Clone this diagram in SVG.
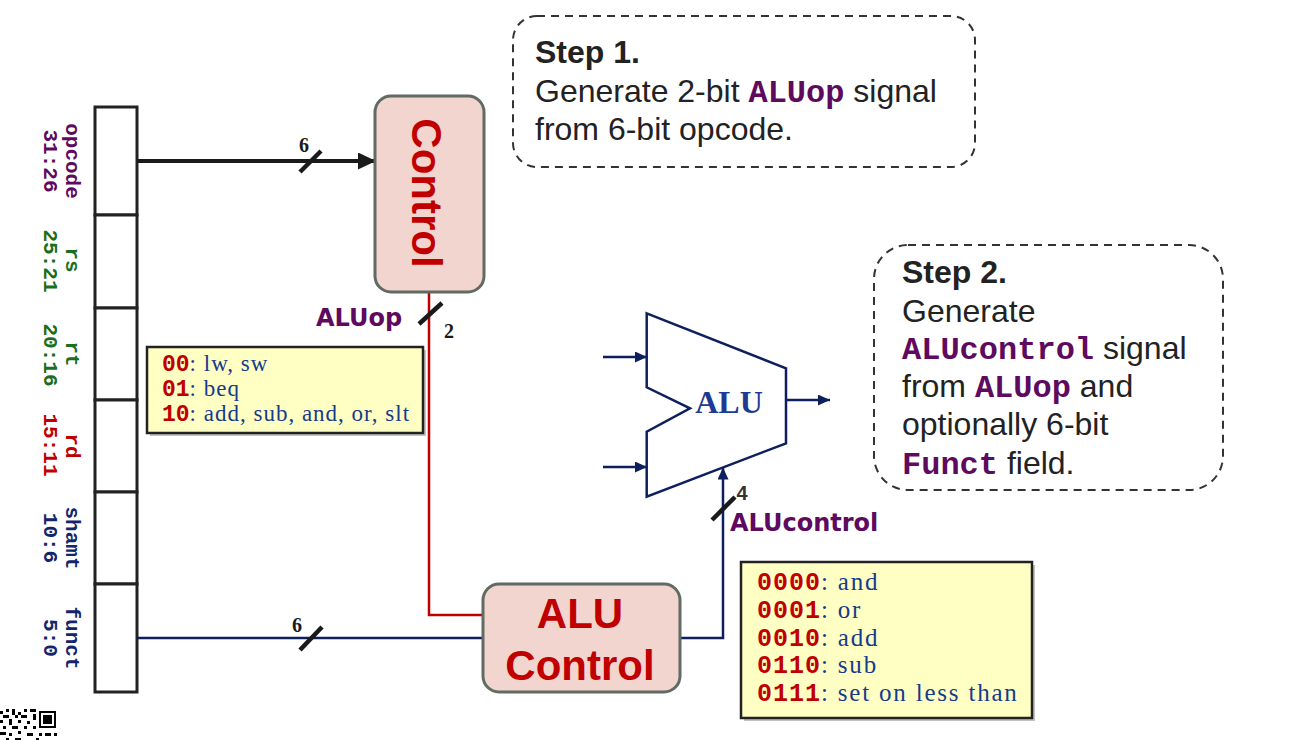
<svg xmlns="http://www.w3.org/2000/svg" width="1290" height="740" viewBox="0 0 1290 740">
<style>
.reg{fill:#fff;stroke:#222;stroke-width:3}
.lbl{font-family:"Liberation Mono",monospace;font-weight:bold;font-size:21px;text-anchor:middle}
.pur{fill:#5e0a5e}.grn{fill:#1b6e1b}.red{fill:#c00000}.nav{fill:#14266b}
.blk{fill:none;stroke:#1a1a1a;stroke-width:4}
.navl{fill:none;stroke:#0d1f5c;stroke-width:2.5}
.redl{fill:none;stroke:#c00000;stroke-width:2.5}
.slash{stroke:#1a1a1a;stroke-width:4.5;stroke-linecap:butt}
.num{font-family:"Liberation Serif",serif;font-weight:bold;font-size:20px;fill:#1a1a1a;text-anchor:middle}
.sig{font-family:"DejaVu Sans",sans-serif;font-weight:bold;font-size:24px;fill:#5e0a5e}
.ctl{fill:#f2d5cf;stroke:#5f6b63;stroke-width:3}
.ctlt{font-family:"Liberation Sans",sans-serif;font-weight:bold;font-size:42px;fill:#c00000;text-anchor:middle}
.ybox{fill:#ffffc4;stroke:#222;stroke-width:2.5}
.shadow{fill:#9a9a9a;opacity:0.6}
.code{font-family:"Liberation Mono",monospace;font-weight:bold;fill:#c00000}
.ser{font-family:"Liberation Serif",serif;fill:#163a8c}
.step{fill:none;stroke:#333;stroke-width:2;stroke-dasharray:8 6}
.st{font-family:"Liberation Sans",sans-serif;font-size:32px;fill:#222}
.stb{font-weight:bold}
.pc{font-family:"Liberation Mono",monospace;font-weight:bold;fill:#5e0a5e}
</style>
<defs>
<marker id="arrB" viewBox="0 0 18 17" markerWidth="18" markerHeight="17" refX="18" refY="8.5" orient="auto" markerUnits="userSpaceOnUse"><path d="M0,0 L18,8.5 L0,17 z" fill="#1a1a1a"/></marker>
<marker id="arrN" viewBox="0 0 12 11" markerWidth="12" markerHeight="11" refX="12" refY="5.5" orient="auto" markerUnits="userSpaceOnUse"><path d="M0,0 L12,5.5 L0,11 z" fill="#0d1f5c"/></marker>
</defs>
<rect width="1290" height="740" fill="#fff"/>

<g id="register">
<rect class="reg" x="95" y="107" width="42" height="108"/>
<rect class="reg" x="95" y="215" width="42" height="93"/>
<rect class="reg" x="95" y="308" width="42" height="92"/>
<rect class="reg" x="95" y="400" width="42" height="92"/>
<rect class="reg" x="95" y="492" width="42" height="92"/>
<rect class="reg" x="95" y="584" width="42" height="108"/>
<text class="lbl pur" transform="translate(66,161) rotate(90)">opcode</text>
<text class="lbl pur" transform="translate(44,161) rotate(90)">31:26</text>
<text class="lbl grn" transform="translate(66,260) rotate(90)">rs</text>
<text class="lbl grn" transform="translate(44,261) rotate(90)">25:21</text>
<text class="lbl grn" transform="translate(66,354) rotate(90)">rt</text>
<text class="lbl grn" transform="translate(44,355) rotate(90)">20:16</text>
<text class="lbl red" transform="translate(66,446) rotate(90)">rd</text>
<text class="lbl red" transform="translate(44,445) rotate(90)">15:11</text>
<text class="lbl nav" transform="translate(66,538) rotate(90)">shamt</text>
<text class="lbl nav" transform="translate(44,538) rotate(90)">10:6</text>
<text class="lbl nav" transform="translate(66,638) rotate(90)">funct</text>
<text class="lbl nav" transform="translate(44,638) rotate(90)">5:0</text>
</g>

<g id="connectors">
<line class="blk" x1="137" y1="161" x2="376" y2="161" marker-end="url(#arrB)"/>
<line class="slash" x1="300" y1="172" x2="321" y2="151"/>
<text class="num" x="304" y="152">6</text>
<polyline class="redl" points="429,292 429,615 484,615"/>
<line class="slash" x1="419" y1="324" x2="442" y2="303"/>
<text class="num" x="449" y="338">2</text>
<text class="sig" x="316" y="326">ALUop</text>
<line class="navl" x1="137" y1="638" x2="484" y2="638"/>
<line class="slash" x1="300" y1="650" x2="322" y2="627"/>
<text class="num" x="297" y="632">6</text>
<polyline class="navl" points="680,638 723,638 723,467.5" marker-end="url(#arrN)"/>
<line class="slash" x1="712" y1="520" x2="735" y2="497"/>
<text class="num" x="742" y="500" style="font-family:'Liberation Sans',sans-serif;fill:#333">4</text>
<text class="sig" x="730" y="531">ALUcontrol</text>
<line class="navl" x1="603" y1="357" x2="647" y2="357" marker-end="url(#arrN)"/>
<line class="navl" x1="603" y1="467" x2="647" y2="467" marker-end="url(#arrN)"/>
<line class="navl" x1="786" y1="400" x2="830" y2="400" marker-end="url(#arrN)"/>
</g>

<g id="control">
<rect class="ctl" x="375" y="96" width="109" height="196" rx="16"/>
<text class="ctlt" transform="translate(412,193) rotate(90)">Control</text>
</g>

<g id="alu">
<path d="M646.7,313.3 L786,368.3 L786,443.3 L646.7,496.7 L646.7,431.7 L690,408.3 L646.7,387.3 Z" fill="#fff" stroke="#0d1f5c" stroke-width="2.5" stroke-linejoin="miter"/>
<text x="729" y="413" style="font-family:'Liberation Serif',serif;font-weight:bold;font-size:32px;fill:#1f3a93;text-anchor:middle">ALU</text>
</g>

<g id="alucontrol">
<rect class="ctl" x="483" y="584" width="197" height="108" rx="16"/>
<text class="ctlt" x="580" y="628">ALU</text>
<text class="ctlt" x="580" y="680">Control</text>
</g>

<g id="aluop-table">
<rect class="shadow" x="150" y="350" width="276" height="86"/>
<rect class="ybox" x="147" y="347" width="276" height="86"/>
<text x="162" y="371"><tspan class="code" font-size="23">00</tspan><tspan class="ser" font-size="23" letter-spacing="1">: lw, sw</tspan></text>
<text x="162" y="396"><tspan class="code" font-size="23">01</tspan><tspan class="ser" font-size="23" letter-spacing="1">: beq</tspan></text>
<text x="162" y="421"><tspan class="code" font-size="23">10</tspan><tspan class="ser" font-size="23" letter-spacing="1">: add, sub, and, or, slt</tspan></text>
</g>

<g id="alucontrol-table">
<rect class="shadow" x="744" y="565" width="291" height="156"/>
<rect class="ybox" x="741" y="562" width="291" height="156"/>
<text x="757" y="590"><tspan class="code" font-size="25" letter-spacing="1">0000</tspan><tspan class="ser" font-size="25" letter-spacing="1.8">: and</tspan></text>
<text x="757" y="617.75"><tspan class="code" font-size="25" letter-spacing="1">0001</tspan><tspan class="ser" font-size="25" letter-spacing="1.8">: or</tspan></text>
<text x="757" y="645.5"><tspan class="code" font-size="25" letter-spacing="1">0010</tspan><tspan class="ser" font-size="25" letter-spacing="1.8">: add</tspan></text>
<text x="757" y="673.25"><tspan class="code" font-size="25" letter-spacing="1">0110</tspan><tspan class="ser" font-size="25" letter-spacing="1.8">: sub</tspan></text>
<text x="757" y="701"><tspan class="code" font-size="25" letter-spacing="1">0111</tspan><tspan class="ser" font-size="25" letter-spacing="1.8">: set on less than</tspan></text>
</g>

<g id="step1">
<rect class="step" x="513" y="16" width="462" height="151" rx="24"/>
<text class="st stb" x="535" y="63">Step 1.</text>
<text class="st" x="535" y="102">Generate 2-bit <tspan class="pc">ALUop</tspan> signal</text>
<text class="st" x="535" y="140">from 6-bit opcode.</text>
</g>

<g id="step2">
<rect class="step" x="874" y="245" width="349" height="245" rx="34"/>
<text class="st stb" x="902" y="283">Step 2.</text>
<text class="st" x="902" y="322">Generate</text>
<text class="st" x="902" y="359"><tspan class="pc">ALUcontrol</tspan> signal</text>
<text class="st" x="902" y="397">from <tspan class="pc">ALUop</tspan> and</text>
<text class="st" x="902" y="435">optionally 6-bit</text>
<text class="st" x="902" y="474"><tspan class="pc">Funct</tspan> field.</text>
</g>

<g id="qr" fill="#000">
<rect x="39" y="711" width="17" height="17"/>
<rect x="41" y="713" width="13" height="13" fill="#fff"/>
<rect x="43" y="715" width="9" height="9"/>
<path d="M0,711h3v3h-3z M6,709h3v3h-3z M12,709h3v6h-3z M18,712h3v3h-3z M24,709h3v3h-3z M30,709h6v3h-6z M3,715h6v3h-6z M15,715h3v3h-3z M21,715h6v3h-6z M33,714h3v6h-3z M0,720h3v3h-3z M9,719h3v6h-3z M18,720h3v3h-3z M27,721h3v3h-3z M3,726h3v3h-3z M12,726h6v3h-6z M24,726h3v3h-3z M33,726h3v3h-3z M0,732h6v3h-6z M9,733h3v3h-3z M18,731h3v3h-3z M27,733h6v3h-6z M39,733h3v3h-3z M45,733h6v3h-6z M54,733h3v3h-3z M6,738h3v2h-3z M15,738h6v2h-6z M36,738h3v2h-3z"/>
</g>
</svg>
